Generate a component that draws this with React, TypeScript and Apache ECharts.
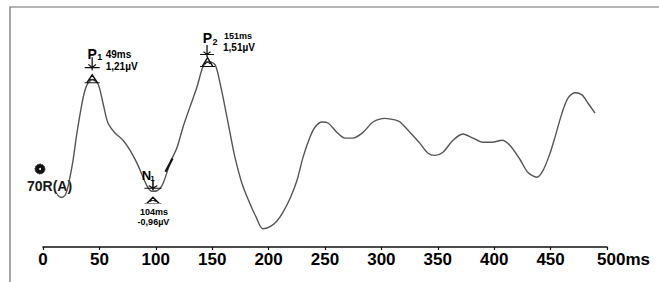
import React, { useEffect, useRef } from "react";
import * as echarts from "echarts";

// Waveform samples (latency in ms, amplitude in µV)
const timeMs = [
  12.4, 16.0, 19.5, 22.2, 23.9, 26.6, 30.1, 34.6, 37.2, 40.0, 43.6, 48.8, 53.2, 57.6,
  63.8, 70.9, 77.1, 83.3, 88.7, 93.1, 96.6, 101.1, 106.4, 112.6, 118.8, 124.1, 130.3,
  136.5, 141.8, 146.3, 152.5, 156.9, 161.3, 165.8, 170.2, 176.4, 183.5, 188.8, 195.0,
  201.2, 207.4, 212.8, 219.0, 225.2, 230.5, 236.7, 241.1, 247.3, 252.7, 260.6, 267.7,
  274.8, 283.7, 292.6, 303.2, 312.1, 316.5, 325.4, 334.2, 341.3, 347.5, 354.6, 363.5,
  372.3, 381.2, 390.1, 398.0, 406.9, 414.0, 422.9, 430.0, 437.9, 443.3, 449.5, 453.9,
  460.1, 465.4, 471.6, 477.8, 483.2, 489.4,
];
const amplitudeUv = [
  -1.04, -1.1, -1.06, -0.89, -0.71, -0.39, 0.14, 0.71, 0.96, 1.1, 1.16, 1.08, 0.71, 0.33,
  0.14, 0.0, -0.19, -0.44, -0.71, -0.91, -0.98, -0.97, -0.83, -0.44, -0.14, 0.25, 0.64,
  1.02, 1.41, 1.51, 1.45, 1.1, 0.64, 0.14, -0.33, -0.83, -1.22, -1.47, -1.7,
  -1.66, -1.55, -1.38, -1.12, -0.77, -0.33, 0.06, 0.25, 0.35, 0.33, 0.15, 0.04,
  0.04, 0.15, 0.35, 0.42, 0.39, 0.35, 0.15, -0.06, -0.25, -0.29, -0.23, 0.0,
  0.12, 0.04, -0.04, -0.04, 0.0, -0.1, -0.37, -0.62, -0.71, -0.58, -0.25, 0.06,
  0.52, 0.81, 0.91, 0.87, 0.71, 0.52,
];

// Axis ticks
const xTicks = [0, 50, 100, 150, 200, 250, 300, 350, 400, 450, 500];

// Peak annotations
const peakLetters = ["P", "N", "P"];
const peakIndex = ["1", "1", "2"];
const peakLatencyText = ["49ms", "104ms", "151ms"];
const peakAmplitudeText = ["1,21µV", "-0,96µV", "1,51µV"];
const peakTime = [43.6, 96.6, 146.3];
const peakValue = [1.16, -0.98, 1.51];
const cursorPoint = [111.7, -0.48];
const channelLabel = "70R(A)";

const FONT = "'Liberation Sans', Arial, sans-serif";
const HAT = "path://M0,8 L14,8 M2,8 L7,1 L12,8 M4.5,6 Q7,3.5 9.5,6";
const ARROW = "path://M5,0 L5,12 M0,9.5 L10,9.5 M2.5,6.5 L5,9.5 L7.5,6.5";

function textItem(coord: number[], text: string, offset: number[], size: number, align: string) {
  return {
    coord,
    symbol: "rect",
    symbolSize: 1,
    itemStyle: { color: "transparent" },
    label: {
      show: true,
      position: "inside",
      formatter: text,
      offset,
      align,
      verticalAlign: "middle",
      fontSize: size,
      fontWeight: "bold",
      fontFamily: FONT,
      color: "#000",
    },
  };
}

function shapeItem(coord: number[], symbol: string, size: number[], offset: number[]) {
  return {
    coord,
    symbol,
    symbolSize: size,
    symbolOffset: offset,
    symbolKeepAspect: false,
    itemStyle: { color: "transparent", borderColor: "#111", borderWidth: 1.2 },
    label: { show: false },
  };
}

// layout styles per peak (P1, N1, P2)
const peakLayout = [
  {
    hat: { size: [15, 8], off: [0, -1] },
    arrow: { size: [15, 13], off: [0, -16] },
    letter: [0, -26], letterSize: 14,
    sub: [7.5, -23], subSize: 9,
    lat: [13.5, -25], latAlign: "left", latSize: 10,
    amp: [13.5, -13], ampAlign: "left", ampSize: 10,
  },
  {
    hat: { size: [17, 6], off: [1, 9] },
    arrow: { size: [17, 10], off: [1, -6] },
    letter: [-5.5, -15.5], letterSize: 13,
    sub: [0.5, -13], subSize: 8,
    lat: [2, 21], latAlign: "center", latSize: 9,
    amp: [1.5, 31], ampAlign: "center", ampSize: 9,
  },
  {
    hat: { size: [15, 9], off: [-0.5, 0.5] },
    arrow: { size: [14, 12], off: [-1, -10.5] },
    letter: [-0.5, -23.5], letterSize: 14,
    sub: [7, -19.5], subSize: 9,
    lat: [16, -25.5], latAlign: "left", latSize: 9,
    amp: [15, -14.5], ampAlign: "left", ampSize: 10,
  },
];

export default function App() {
  const ref = useRef<HTMLDivElement>(null);
  useEffect(() => {
    if (!ref.current) return;
    const chart = echarts.init(ref.current, undefined, { renderer: "svg" });
    const data = timeMs.map((t, i) => [t, amplitudeUv[i]]);

    const marks: any[] = [];
    peakTime.forEach((t, i) => {
      const c = [t, peakValue[i]];
      const L = peakLayout[i];
      marks.push(shapeItem(c, HAT, L.hat.size, L.hat.off));
      marks.push(shapeItem(c, ARROW, L.arrow.size, L.arrow.off));
      marks.push(textItem(c, peakLetters[i], L.letter, L.letterSize, "center"));
      marks.push(textItem(c, peakIndex[i], L.sub, L.subSize, "center"));
      marks.push(textItem(c, peakLatencyText[i], L.lat, L.latSize, L.latAlign));
      marks.push(textItem(c, peakAmplitudeText[i], L.amp, L.ampSize, L.ampAlign));
    });
    marks.push({
      coord: cursorPoint,
      symbol: "rect",
      symbolSize: [2.2, 15],
      symbolRotate: -28,
      itemStyle: { color: "#111" },
      label: { show: false },
    });

    chart.setOption({
      animation: false,
      backgroundColor: "#fff",
      grid: { left: 43, right: 52, top: 10, bottom: 35 },
      xAxis: {
        type: "value",
        min: 0,
        max: 500,
        interval: 50,
        axisLine: { show: true, onZero: false, lineStyle: { color: "#111", width: 1.5 } },
        axisTick: { show: true, length: 3, lineStyle: { color: "#111", width: 1.2 } },
        splitLine: { show: false },
        axisLabel: {
          margin: 4,
          color: "#000",
          fontSize: 17,
          fontWeight: "bold",
          fontFamily: FONT,
          formatter: (v: number) =>
            xTicks.includes(v) ? (v === 500 ? "{sp| }{n|500ms}" : String(v)) : "",
          rich: {
            sp: { width: 33, fontSize: 17 },
            n: { fontSize: 17, fontWeight: "bold", fontFamily: FONT, color: "#000" },
          },
        },
      },
      yAxis: {
        type: "value",
        min: -2.05,
        max: 2.5,
        show: false,
        splitLine: { show: false },
      },
      graphic: [
        {
          type: "polyline",
          shape: { points: [[10, 282], [10, 7], [659, 7]] },
          style: { stroke: "#6a6a6a", lineWidth: 1.2, fill: "none" },
          silent: true,
        },
        {
          type: "circle",
          shape: { cx: 40, cy: 169, r: 5 },
          style: { fill: "#111", stroke: "#333", lineWidth: 1, lineDash: [1.5, 1] },
        },
        {
          type: "circle",
          shape: { cx: 40, cy: 169, r: 1 },
          style: { fill: "#fff" },
        },
        {
          type: "text",
          x: 27,
          y: 186,
          style: {
            text: channelLabel,
            fontSize: 14,
            fontWeight: "bold",
            fontFamily: FONT,
            fill: "#1a1a1a",
            verticalAlign: "middle",
            align: "left",
          },
        },
      ],
      series: [
        {
          type: "line",
          data,
          smooth: 0.3,
          showSymbol: false,
          symbol: "none",
          lineStyle: { color: "#555", width: 1.4 },
          silent: true,
          markPoint: { silent: true, data: marks, animation: false },
        },
      ],
    });
    return () => chart.dispose();
  }, []);
  return (
    <div
      ref={ref}
      style={{ position: "fixed", left: 0, top: 0, width: 659, height: 282, background: "#fff" }}
    />
  );
}
